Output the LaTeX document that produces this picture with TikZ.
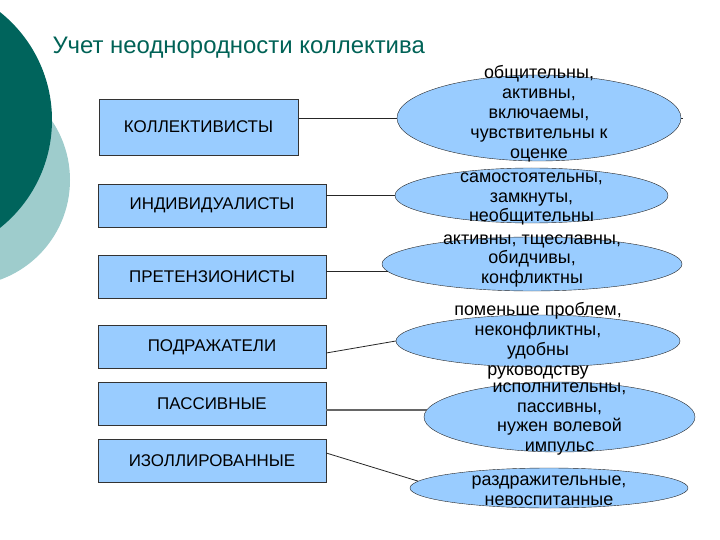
\documentclass[tikz,border=0pt]{standalone}
\usepackage{fontspec}
\setmainfont{Liberation Sans}
\usetikzlibrary{shapes.geometric, positioning}
\definecolor{darkteal}{RGB}{0,100,92}
\definecolor{lightteal}{RGB}{158,204,204}
\definecolor{titleteal}{RGB}{0,98,86}
\definecolor{boxblue}{RGB}{153,204,255}
\pgfdeclarelayer{back}
\pgfsetlayers{back,main}

\begin{document}
\begin{tikzpicture}[x=1bp, y=-1bp,
    typebox/.style={rectangle, draw=black!80, fill=boxblue, inner sep=0pt, minimum width=228bp, minimum height=43bp, font=\fontsize{17}{20}\selectfont},
    traitoval/.style={ellipse, draw=black!85, fill=boxblue, inner sep=0pt},
    traittext/.style={align=center, inner sep=0pt, font=\fontsize{18}{20}\selectfont},
    link/.style={draw=black!85, line width=0.8bp}]
\useasboundingbox (0,0) rectangle (720,540);
\begin{scope}
\clip (0,0) rectangle (720,540);
\fill[lightteal] (-36,180) circle[radius=106bp];
\fill[darkteal] (-86,120) circle[radius=138bp];
\end{scope}
\node[anchor=west, text=titleteal, font=\fontsize{24}{28}\selectfont] (title) at (49,48) {Учет неоднородности коллектива};

\node[typebox, minimum width=199bp, minimum height=56bp] (kollekt) at (198.5,127) {КОЛЛЕКТИВИСТЫ};
\node[typebox] (individ) at (212,205.5) {ИНДИВИДУАЛИСТЫ};
\node[typebox] (pretenz) at (212,276.5) {ПРЕТЕНЗИОНИСТЫ};
\node[typebox] (podrazh) at (212,347) {ПОДРАЖАТЕЛИ};
\node[typebox] (passiv) at (212,403.5) {ПАССИВНЫЕ};
\node[typebox] (izolir) at (212,460.5) {ИЗОЛЛИРОВАННЫЕ};

\node[traitoval, minimum width=284bp, minimum height=86bp] (kollekt oval) at (539,118) {};
\node[traitoval, minimum width=273bp, minimum height=55bp] (individ oval) at (531.5,195.5) {};
\node[traitoval, minimum width=300bp, minimum height=54bp] (pretenz oval) at (532,264) {};
\node[traitoval, minimum width=284bp, minimum height=52bp] (podrazh oval) at (538,341) {};
\node[traitoval, minimum width=271bp, minimum height=70bp] (passiv oval) at (559.5,417) {};
\node[traitoval, minimum width=278bp, minimum height=40bp] (izolir oval) at (549,488) {};

\begin{pgfonlayer}{back}
\draw[link] (kollekt.east |- kollekt oval.west) -- ([xshift=2bp]kollekt oval.east);
\end{pgfonlayer}
\draw[link] (individ.east |- individ oval.west) -- (individ oval.west);
\draw[link] (pretenz.east |- pretenz oval.183) -- (pretenz oval.183);
\draw[link] ([yshift=-6bp]podrazh.east) -- (podrazh oval.west);
\draw[link, draw=black!60, line width=2bp] (passiv.east |- passiv oval.177) -- (passiv oval.177);
\draw[link] ([yshift=7.5bp]izolir.east) -- (izolir oval.177);

\node[traittext, yshift=4bp] (kollekt text) at (kollekt oval) {общительны,\\активны,\\включаемы,\\чувствительны к\\оценке};
\node[traittext, yshift=-3.5bp] (individ text) at (individ oval) {самостоятельны,\\замкнуты,\\необщительны};
\node[traittext, yshift=3bp] (pretenz text) at (pretenz oval) {активны, тщеславны,\\обидчивы,\\конфликтны};
\node[traittext] (podrazh text) at (podrazh oval) {поменьше проблем,\\неконфликтны,\\удобны\\руководству};
\node[traittext, yshift=-2bp] (passiv text) at (passiv oval) {исполнительны,\\пассивны,\\нужен волевой\\импульс};
\node[traittext, yshift=-3bp] (izolir text) at (izolir oval) {раздражительные,\\невоспитанные};
\end{tikzpicture}
\end{document}
